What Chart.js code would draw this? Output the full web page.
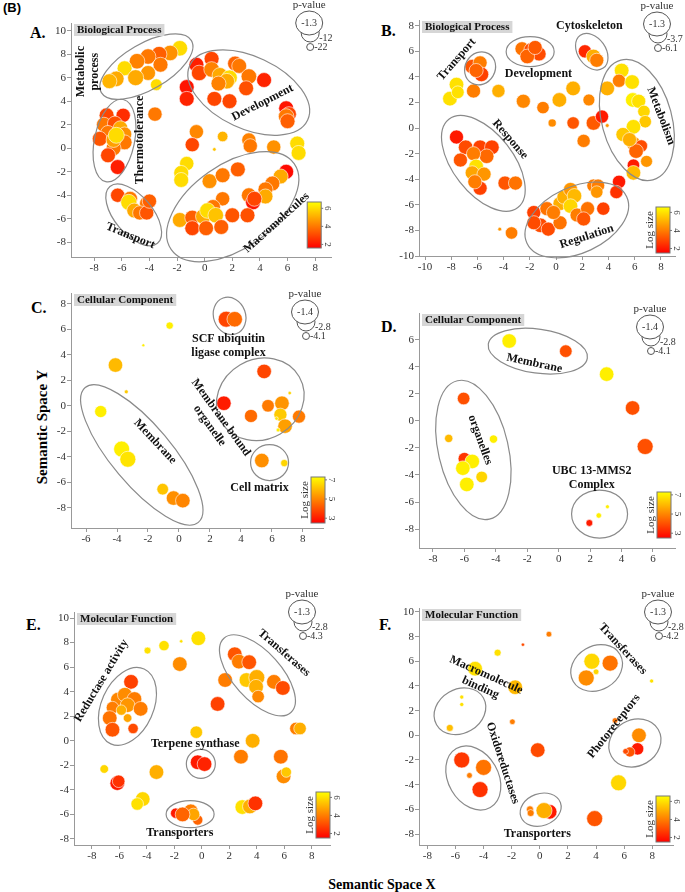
<!DOCTYPE html>
<html>
<head>
<meta charset="utf-8">
<script src="https://cdn.jsdelivr.net/npm/chart.js@4.4.0/dist/chart.umd.min.js"></script>
<style>
body { margin:0; background:#fff; width:685px; height:892px; position:relative; overflow:hidden; font-family:"Liberation Serif", serif; }
canvas { position:absolute; }
.t { position:absolute; font-weight:bold; color:#000; white-space:nowrap; }
</style>
</head>
<body>
<div class="t" style="left:3px;top:0px;font:bold 13px 'Liberation Sans', Arial;">(B)</div>
<div class="t" style="left:30px;top:24px;font-size:16px;">A.</div>
<div class="t" style="left:381px;top:22px;font-size:16px;">B.</div>
<div class="t" style="left:31px;top:299px;font-size:16px;">C.</div>
<div class="t" style="left:381px;top:318px;font-size:16px;">D.</div>
<div class="t" style="left:26px;top:616px;font-size:16px;">E.</div>
<div class="t" style="left:379px;top:616px;font-size:16px;">F.</div>
<div class="t" style="left:42px;top:427px;font-size:15px;transform:translate(-50%,-50%) rotate(-90deg);">Semantic Space Y</div>
<div class="t" style="left:382px;top:885px;font-size:14px;transform:translate(-50%,-50%);">Semantic Space X</div>

<script>
// each point: [semantic x, semantic y, log size, log10 p-value]
var pointsA = [
  [-1.8,8.5,6,-2],[-2.5,8.1,4.5,-2],[-3.3,8.0,3.5,-2],[-4.1,7.8,4,-2],[-4.9,7.4,4.2,-2],[-3.2,7.1,4,-3],
  [-5.8,6.8,6,-3],[-4.1,6.4,4.6,-3],[-5.0,6.0,5,-1.3],[-6.4,5.9,5,-2],[-6.9,5.7,5.2,-3],[-3.5,5.4,6,-8],
  [-0.6,7.1,2.2,-3],[0.5,7.6,3,-3],[-0.4,6.4,3,-2],[0.5,6.7,4.2,-2],[1.1,6.2,5,-2],[1.8,6.0,6,-2],
  [1.6,5.7,5,-2],[2.2,7.2,3.6,-3],[2.5,7.0,4,-3],[3.2,6.1,4,-2],[3.0,5.1,3.2,-3],[4.3,5.8,2.3,-3],
  [1.0,5.5,4.2,-3],[0.7,4.2,3,-3],[1.8,4.0,3,-3],[5.9,3.4,2,-3],[6.1,2.9,3,-3],[5.9,2.7,4,-2],[6.0,2.3,3.5,-3],
  [-7.1,2.8,3,-3],[-5.9,2.8,2.5,-4],[-7.3,2.0,4,-3],[-6.5,2.1,3.2,-3],[-7.0,1.3,4,-3],[-6.1,1.7,5,-3],
  [-5.8,1.2,4.5,-4],[-7.6,0.8,3.3,-3],[-5.8,0.5,4,-3],[-6.6,0.0,4,-3],[-7.0,-0.6,3,-3],[-6.3,-1.6,2.2,-3],
  [-6.6,0.7,4.8,-3],[-6.4,1.1,6,-1.3],
  [-1.3,5.2,2,-3],[-1.3,4.2,2.3,-3],[-3.6,2.9,4,-4],[-0.6,1.4,4.3,-4],[1.3,1.0,5.2,-10],[-0.9,0.3,3,-4],
  [0.7,-0.1,5.5,-21],[3.2,0.7,4.2,-4],[3.3,0.2,4,-4],[5.0,0.1,4.5,-4],[6.7,0.4,6,-3],[6.8,-0.4,6,-3],
  [-1.3,-1.3,6,-4],[-1.7,-2.1,6,-3],[-1.7,-2.7,6,-3],
  [0.35,-2.8,4.5,-3],[1.3,-2.3,4,-3],[2.4,-1.8,3.5,-3],[5.9,-2.0,1.8,-3],[5.5,-2.4,5,-3],[4.9,-3.0,4,-3],
  [4.4,-3.5,4,-3],[3.2,-4.0,4,-3],[4.4,-4.1,5,-3],[3.5,-4.6,2,-3],[1.3,-4.3,4,-4],[0.6,-5.0,4,-3],
  [-1.8,-6.1,5,-3],[-0.9,-5.9,3.5,-3],[-0.1,-5.8,5,-2],[0.2,-5.3,6,-2],[0.8,-5.7,5.5,-2],[2.0,-5.7,3.3,-3],
  [3.1,-5.7,3.2,-3],[-0.9,-6.8,3,-3],[0.1,-6.8,3.5,-3],[1.2,-6.7,3.5,-3],[3.6,-4.3,3,-3],
  [-6.3,-4.0,3,-4],[-5.4,-4.3,4,-3],[-5.5,-4.6,6,-1.3],[-5.1,-5.3,5,-3],[-4.2,-4.7,4,-4],[-4.7,-5.5,4,-4],
  [-4.2,-5.5,3.3,-4],[-4.0,-4.5,3.5,-4]
];
var pointsB = [
  [-6.4,4.8,3.2,-1.8],[-5.8,5.1,4,-2],[-5.7,4.2,2.8,-1.8],[-6.1,4.5,3.5,-2],
  [-7.6,3.4,6,-1.8],[-8.1,2.3,6,-1.8],[-7.5,2.8,6,-2.5],[-6.3,2.9,4,-2],[-4.4,2.9,5,-2.3],
  [-2.6,6.2,3.8,-2],[-1.9,6.1,3,-1.8],[-1.3,5.8,3,-2],[-2.2,5.6,3.5,-1.8],[-1.6,6.3,3.3,-2],
  [2.2,6.0,2.3,-2.3],[2.85,5.6,5,-1.8],[3.1,5.3,4,-2],
  [-2.5,2.1,4.2,-2],[-1.0,1.6,4,-2.6],[0.25,2.2,5,-1.8],[1.3,3.1,5,-1.8],[2.5,2.2,4.2,-2.8],[-0.3,0.4,4.3,-4.2],
  [1.3,0.4,3.2,-2.6],[2.1,-1.0,4,-2.3],[2.85,0.4,3.3,-1.8],[3.5,0.9,2,-2.3],[3.9,0.2,4.5,-5.8],
  [5.0,4.5,6,-1.8],[4.8,3.7,4,-2.3],[3.9,3.1,5,-1.8],[5.8,3.6,6,-1.8],[5.85,2.2,6.3,-1.8],[6.3,2.1,6,-2],
  [6.7,1.3,5.8,-2.6],[6.8,0.5,5.5,-2.6],[5.9,0.1,6,-1.8],[5.1,-0.5,5.5,-2],[5.9,-1.2,4.5,-2],[6.5,-1.4,3,-2.6],
  [6.1,-1.8,3.5,-1.8],[6.9,-2.6,4.5,-2.8],[5.9,-2.9,2,-2.6],[5.9,-3.5,5.2,-1.8],[5.6,-0.9,5,-2],
  [-7.6,-0.7,2,-2],[-6.9,-1.5,3,-1.8],[-7.3,-2.5,3.2,-2],[-5.8,-1.5,2.8,-1.8],[-4.9,-1.5,2.8,-1.8],
  [-5.3,-2.2,3.6,-1.8],[-6.3,-2.0,4,-2],[-6.1,-3.0,6,-1.8],[-6.4,-3.5,4.8,-2],[-5.5,-3.6,4.5,-2],
  [-5.8,-4.7,2.8,-2],[-6.2,-4.2,4,-2],[-3.9,-4.3,3.2,-2],[-3.1,-4.3,3.8,-2],
  [-1.7,-6.6,2.8,-2],[-1.2,-7.6,3,-1.8],[-0.6,-7.9,3,-2],[-0.7,-6.3,3.8,-2],[0.3,-7.4,3.8,-2],[0.3,-5.9,5,-2],
  [0.6,-5.4,5,-2],[1.1,-4.8,4.5,-2],[1.4,-5.3,5.2,-1.8],[1.1,-6.1,5.8,-1.8],[1.6,-6.8,4,-2],[2.4,-6.3,3.8,-2],
  [2.1,-7.1,3.2,-2],[2.85,-4.5,4,-2.3],[3.2,-4.5,4,-2.3],[3.6,-6.3,2.8,-2.3],[-0.2,-6.6,4,-2],[-1.7,-7.4,3,-2],
  [3.1,-5.0,4.5,-2.6],
  [4.8,-4.2,2,-2.3],[4.6,-5.0,2.5,-2.3],[-3.4,-8.2,4,-2.6],[-4.3,-7.9,4.5,-5.8]
];
var pointsC = [
  [3.05,6.8,3.8,-1.4],[3.6,6.8,4.5,-1.5],[-0.6,6.3,7,-3.2],[-2.3,4.75,7,-4.1],[-4.1,3.2,6,-1.7],
  [-3.4,1.1,6.3,-3.9],[-5.05,-0.45,7,-2.2],[-3.7,-3.4,7,-1.4],[-3.3,-4.2,6.8,-1.4],[-1.05,-6.55,6.2,-2.3],
  [-0.35,-7.25,5.2,-1.7],[0.25,-7.45,5,-1.7],[5.5,2.7,3.8,-1.7],[7.15,1.0,6.5,-4.0],[2.9,0.2,3,-1.7],
  [5.75,0.0,4.8,-2.1],[6.65,0.2,5.3,-1.7],[6.55,-0.7,6.3,-2.0],[4.65,-0.8,4.5,-2.0],[7.75,-0.85,4.8,-2.0],
  [6.85,-1.6,5.5,-1.7],[6.3,-1.0,6.8,-4.0],[6.4,-1.9,7,-3.9],[5.35,-4.3,5.2,-1.7],[6.8,-4.5,6.5,-3.2]
];
var pointsD = [
  [-3.15,5.9,7,-1.7],[0.45,5.15,4,-2.1],[3.05,3.45,7,-1.7],[4.7,0.95,4,-1.7],[5.5,-1.9,4,-1.4],
  [-6.05,1.65,4,-2.1],[-7.0,-1.3,6,-3.0],[-4.15,-1.35,7,-3.0],[-6.0,-2.8,3.5,-2.1],[-5.5,-3.0,7,-1.7],
  [-6.1,-3.5,7,-1.7],[-4.9,-4.15,6.5,-2.3],[-5.85,-4.7,7,-1.7],[1.95,-7.55,3,-3.3],[2.55,-7.0,7,-3.6],
  [3.1,-6.35,7,-3.9]
];
var pointsE = [
  [-3.95,7.35,6,-3.4],[-2.75,7.75,6,-2.6],[-1.5,8.1,6,-4.2],[-0.25,8.35,6,-1.6],[-1.6,6.25,4.3,-1.6],
  [-5.15,4.8,2.8,-1.6],[-6.1,3.35,4.2,-1.6],[-5.6,3.75,4.3,-1.6],[-4.9,3.4,4,-1.6],[-5.4,2.9,4.5,-1.6],
  [-6.5,2.7,4,-2.1],[-5.85,2.5,5,-2.6],[-4.45,2.6,4,-1.6],[-6.7,1.85,3.8,-1.6],[-5.4,1.85,4.8,-3.0],
  [-6.5,0.9,3.2,-1.6],[-5.0,1.0,3,-2.6],
  [2.4,7.05,3.2,-1.6],[2.7,6.45,4,-1.6],[3.45,6.4,3.2,-1.6],[1.7,4.95,4,-1.6],[3.25,4.95,5.5,-1.6],
  [4.0,5.15,5,-1.3],[3.95,4.4,5,-1.6],[4.1,3.6,4.2,-2.1],[5.25,4.8,4,-1.6],[5.9,4.3,3,-1.6],
  [1.15,3.0,2.8,-1.6],[-0.4,0.7,5.5,-2.1],[6.85,1.0,4,-2.1],[7.15,1.0,5,-2.1],[3.7,0.0,5,-1.6],
  [2.85,-1.3,4,-1.6],[5.75,-1.3,3.8,-1.6],[5.95,-2.9,4.3,-1.6],[6.15,-2.55,5.5,-2.6],[-7.1,-2.3,5.8,-3.0],
  [-3.3,-2.55,5,-1.6],[-6.15,-3.45,2,-1.6],[-6.05,-3.3,2.5,-2.1],[-4.3,-4.75,5.8,-1.6],[-4.7,-5.15,6,-2.1],
  [-0.3,-1.75,2,-1.6],[0.2,-1.9,2.2,-1.6],
  [-1.9,-5.9,2,-2.6],[-0.8,-5.75,4,-1.6],[-0.3,-6.45,3.5,-2.6],[-0.6,-6.0,4.8,-2.1],[-1.4,-6.0,3.5,-1.6],
  [2.95,-5.4,6,-1.6],[3.5,-5.35,5,-1.6],[3.9,-5.1,2.5,-1.6]
];
var pointsF = [
  [0.65,8.2,4,-3.6],[-1.2,7.35,3,-4.1],[-3.0,6.7,6,-3.3],[-4.6,5.4,6,-1.6],[-1.75,3.9,5.2,-1.6],
  [-5.55,3.1,6,-3.95],[-5.55,2.5,6,-3.95],[-6.4,0.6,5.3,-3.3],[-1.95,1.1,4,-3.6],[-0.15,-1.2,3,-1.6],
  [3.7,6.0,5.8,-1.3],[5.0,5.85,3.8,-1.3],[4.0,5.15,5.8,-3.6],[3.3,4.65,4.3,-1.3],[7.95,4.4,6,-3.95],
  [5.35,1.2,3.8,-3.6],[7.05,0.0,4.3,-1.6],[6.95,-1.1,2,-2.1],[6.4,-1.35,3.2,-2.6],[6.1,-1.3,3,-3.6],
  [5.6,-3.85,5.8,-1.3],
  [-5.55,-2.0,2.6,-1.3],[-4.0,-2.6,3.8,-1.3],[-5.0,-3.25,4,-3.6],[-4.25,-4.4,2.5,-1.3],
  [-0.7,-6.0,4,-3.3],[-0.65,-6.3,4,-3.3],[0.7,-6.2,2,-1.6],[0.3,-6.1,5,-1.3],[3.9,-6.75,3.2,-1.3]
];

// axis ticks
var ticksA_x = [-8,-6,-4,-2,0,2,4,6,8],  ticksA_y = [-8,-6,-4,-2,0,2,4,6,8,10];
var ticksB_x = [-10,-8,-6,-4,-2,0,2,4,6,8], ticksB_y = [-10,-8,-6,-4,-2,0,2,4,6,8];
var ticksC_x = [-6,-4,-2,0,2,4,6,8],     ticksC_y = [-8,-6,-4,-2,0,2,4,6,8];
var ticksD_x = [-8,-6,-4,-2,0,2,4,6],    ticksD_y = [-8,-6,-4,-2,0,2,4,6];
var ticksE_x = [-8,-6,-4,-2,0,2,4,6,8],  ticksE_y = [-8,-6,-4,-2,0,2,4,6,8,10];
var ticksF_x = [-8,-6,-4,-2,0,2,4,6,8],  ticksF_y = [-8,-6,-4,-2,0,2,4,6,8,10];

// p-value legend (big, middle, small circle) and log size colour bars
var pvA = [-1.3,-12,-22], pvB = [-1.3,-3.7,-6.1], pvC = [-1.4,-2.8,-4.1];
var pvD = [-1.4,-2.8,-4.1], pvE = [-1.3,-2.8,-4.3], pvF = [-1.3,-2.8,-4.2];
var logRangeA = [1.6,6.7], logTicksA = [2,4,6];
var logRangeB = [1.5,6.6], logTicksB = [2,4,6];
var logRangeC = [2.5,7.3], logTicksC = [3,5,7];
var logRangeD = [2.5,7.3], logTicksD = [3,5,7];
var logRangeE = [1.5,6.6], logTicksE = [2,4,6];
var logRangeF = [1.5,6.6], logTicksF = [2,4,6];

// cluster outlines: centre x, centre y (semantic space), half axes px, rotation deg
var ringsA = [[-4.22,6.94,52,23,-30],[3.19,4.73,65,36,25],[-6.53,0.65,42,20,-78],[-5.14,-5.67,37,19,50],[2.03,-4.97,75,42,-35]];
var ringsB = [[-5.8,4.67,17,15,-60],[-1.98,5.97,24,15,0],[2.72,5.97,20,14,55],[6.16,0.63,62,35,75],[-5.55,-2.76,56,30,52],[1.58,-7.18,55,33,-25]];
var ringsC = [[3.27,7.06,19,16,70],[5.25,0.51,45,40,-30],[5.85,-4.46,19,18,0],[-2.4,-3.86,88,30,50]];
var ringsD = [[-1.33,5.15,50,22,8],[-5.43,-2.15,71,35,77],[2.6,-6.89,28,24,0]];
var ringsE = [[-5.41,2.8,41,26,-66],[4.05,5.33,50,24,48],[-0.07,-1.88,14.5,14.5,0],[-0.85,-5.98,24,13.5,0]];
var ringsF = [[4.04,5.46,27,22,-30],[-5.68,1.95,27,22,-30],[-4.73,-3.46,34,25,60],[0.06,-6.03,21,16,-20],[6.76,-0.62,27,23,-30]];

var tagsA = [['Metabolic\nprocess',-8.43,6.51,-90],['Thermotolerance',-4.7,0.7,-90],['Development',4.2,3.88,-27],['Transport',-5.38,-7.46,22],['Macromolecules',5.21,-6.33,-42]];
var tagsB = [['Transport',-7.58,5.37,-49],['Development',-1.35,4.22,0],['Cytoskeleton',2.54,7.97,0],['Response',-3.51,-0.88,49],['Metabolism',8.0,0.94,69],['Regulation',2.34,-8.48,-18]];
var tagsC = [['SCF ubiquitin\nligase complex',3.2,4.73,0],['Membrane bound\norganelle',2.34,-1.24,54],['Membrane',-1.54,-2.81,47],['Cell matrix',5.2,-6.48,0]];
var tagsD = [['Membrane',-1.55,4.25,12],['organelles',-5.0,-1.41,70],['UBC 13-MMS2\nComplex',2.1,-4.22,0]];
var tagsE = [['Reductase activity',-7.3,4.89,-59],['Transferases',5.99,7.15,41],['Terpene synthase',-0.48,-0.24,0],['Transporters',-1.6,-7.53,0]];
var tagsF = [['Transferases',5.89,7.0,47],['Macromolecule\nbinding',-4.02,4.38,24],['Oxidoreductases',-2.64,-2.24,72],['Photoreceptors',5.27,0.73,-52],['Transporters',-0.18,-8.0,0]];

function colorFor(v, rng) {
  var t = (v - rng[0]) / (rng[1] - rng[0]);
  t = Math.max(0, Math.min(1, t));
  return 'rgb(255,' + Math.round(255 * t) + ',0)';
}

var decoPlugin = {
  id: 'deco',
  afterDatasetsDraw: function(chart, args, opts) {
    var p = opts.panel, ctx = chart.ctx, ca = chart.chartArea;
    var xs = chart.scales.x, ys = chart.scales.y;
    ctx.save();
    ctx.strokeStyle = '#8a8a8a';
    ctx.lineWidth = 1.2;
    p.rings.forEach(function(r) {
      ctx.beginPath();
      ctx.ellipse(xs.getPixelForValue(r[0]), ys.getPixelForValue(r[1]), r[2], r[3], r[4] * Math.PI / 180, 0, 2 * Math.PI);
      ctx.stroke();
    });
    ctx.fillStyle = '#111';
    ctx.font = 'bold 12px "Liberation Serif"';
    ctx.textAlign = 'center';
    ctx.textBaseline = 'middle';
    p.tags.forEach(function(t) {
      var lines = t[0].split('\n');
      ctx.save();
      ctx.translate(xs.getPixelForValue(t[1]), ys.getPixelForValue(t[2]));
      ctx.rotate(t[3] * Math.PI / 180);
      lines.forEach(function(s, i) {
        ctx.fillText(s, 0, (i - (lines.length - 1) / 2) * 14);
      });
      ctx.restore();
    });

    // title box
    ctx.font = 'bold 11px "Liberation Serif"';
    var tw = ctx.measureText(p.title).width + 6;
    ctx.fillStyle = '#d6d6d6';
    ctx.fillRect(ca.left + 3, ca.top + 1, tw, 12);
    ctx.fillStyle = '#111';
    ctx.textAlign = 'left';
    ctx.fillText(p.title, ca.left + 6, ca.top + 7.5);

    // p-value legend
    var cx = ca.right + p.leg[0], cy = ca.top + p.leg[1];
    ctx.font = '11px "Liberation Serif"';
    ctx.fillStyle = '#333';
    ctx.textAlign = 'center';
    ctx.fillText('p-value', cx, cy - 18);
    ctx.strokeStyle = '#555';
    ctx.lineWidth = 1;
    ctx.fillStyle = '#fff';
    ctx.beginPath(); ctx.arc(cx + 1, cy + 10, 9, 0, 2 * Math.PI); ctx.fill(); ctx.stroke();
    ctx.beginPath(); ctx.ellipse(cx, cy, 13.5, 12, 0, 0, 2 * Math.PI); ctx.fill(); ctx.stroke();
    ctx.beginPath(); ctx.arc(cx + 1, cy + 24, 3.5, 0, 2 * Math.PI); ctx.fill(); ctx.stroke();
    ctx.fillStyle = '#333';
    ctx.font = '10px "Liberation Serif"';
    ctx.fillText(String(p.pv[0]), cx, cy);
    ctx.textAlign = 'left';
    ctx.fillText(String(p.pv[1]), cx + 10, cy + 15);
    ctx.fillText(String(p.pv[2]), cx + 5, cy + 24);

    // colour bar
    var bx = ca.right + p.bar[0] - 14, by = ca.bottom + p.bar[1] - 46;
    var g = ctx.createLinearGradient(0, by + 46, 0, by);
    for (var k = 0; k <= 10; k++) {
      g.addColorStop(k / 10, colorFor(p.lr[0] + (p.lr[1] - p.lr[0]) * k / 10, p.lr));
    }
    ctx.fillStyle = g;
    ctx.fillRect(bx, by, 14, 46);
    ctx.strokeStyle = '#777';
    ctx.strokeRect(bx, by, 14, 46);
    ctx.fillStyle = '#333';
    ctx.font = '9px "Liberation Serif"';
    ctx.textAlign = 'center';
    p.lt.forEach(function(v) {
      var yy = by + 46 - (v - p.lr[0]) / (p.lr[1] - p.lr[0]) * 46;
      ctx.beginPath(); ctx.moveTo(bx + 14, yy); ctx.lineTo(bx + 16, yy); ctx.stroke();
      ctx.save();
      ctx.translate(bx + 20, yy);
      ctx.rotate(Math.PI / 2);
      ctx.fillText(String(v), 0, 0);
      ctx.restore();
    });
    if (p.barLabel) {
      ctx.save();
      ctx.font = '11px "Liberation Serif"';
      ctx.translate(bx - 6, by + 23);
      ctx.rotate(-Math.PI / 2);
      ctx.fillText('Log size', 0, 0);
      ctx.restore();
    }
    ctx.restore();
  }
};

var panels = [
  {cell:[0,0,340,280], area:[71,23,332,257], xr:[-9.68,9.16], yr:[-9.25,10.65], xt:ticksA_x, yt:ticksA_y, pts:pointsA, pv:pvA, lr:logRangeA, lt:logTicksA, rings:ringsA, tags:tagsA, title:'Biological Process', leg:[-22,0], bar:[-10,-9], barLabel:false},
  {cell:[340,0,345,280], area:[419,20,675,256], xr:[-10.46,9.07], yr:[-10,8.45], xt:ticksB_x, yt:ticksB_y, pts:pointsB, pv:pvB, lr:logRangeB, lt:logTicksB, rings:ringsB, tags:tagsB, title:'Biological Process', leg:[-18,4], bar:[-5,-3], barLabel:true},
  {cell:[0,280,340,292], area:[71,293,323,528], xr:[-6.97,9.3], yr:[-9.6,8.86], xt:ticksC_x, yt:ticksC_y, pts:pointsC, pv:pvC, lr:logRangeC, lt:logTicksC, rings:ringsC, tags:tagsC, title:'Cellular Component', leg:[-18,19], bar:[2,-5], barLabel:true},
  {cell:[340,280,345,292], area:[419,313,675,548], xr:[-8.89,7.4], yr:[-9.4,7.97], xt:ticksD_x, yt:ticksD_y, pts:pointsD, pv:pvD, lr:logRangeD, lt:logTicksD, rings:ringsD, tags:tagsD, title:'Cellular Component', leg:[-25,14], bar:[-4,-10], barLabel:true},
  {cell:[0,572,340,320], area:[74,612,330,845], xr:[-9.3,9.33], yr:[-8.49,10.49], xt:ticksE_x, yt:ticksE_y, pts:pointsE, pv:pvE, lr:logRangeE, lt:logTicksE, rings:ringsE, tags:tagsE, title:'Molecular Function', leg:[-28,0], bar:[0,-7], barLabel:true},
  {cell:[340,572,345,320], area:[419,608,673,845], xr:[-8.59,9.47], yr:[-8.89,10.32], xt:ticksF_x, yt:ticksF_y, pts:pointsF, pv:pvF, lr:logRangeF, lt:logTicksF, rings:ringsF, tags:tagsF, title:'Molecular Function', leg:[-15,4], bar:[-3,-3], barLabel:true}
];

var Y_W = 30, X_H = 20;
var R_BIG = 8, R_SMALL = 1.5;

panels.forEach(function(p) {
  var cv = document.createElement('canvas');
  cv.width = p.cell[2]; cv.height = p.cell[3];
  cv.style.left = p.cell[0] + 'px'; cv.style.top = p.cell[1] + 'px';
  cv.style.width = p.cell[2] + 'px'; cv.style.height = p.cell[3] + 'px';
  document.body.appendChild(cv);

  var big = p.pv[0], small = p.pv[2];
  var bubbles = p.pts.map(function(q) {
    var r = R_SMALL + (R_BIG - R_SMALL) * (q[3] - small) / (big - small);
    return {x: q[0], y: q[1], r: Math.max(1.2, Math.min(R_BIG, r)), v: q[2]};
  });

  var axisStyle = function(min, max, ticks, isX) {
    return {
      type: 'linear', min: min, max: max,
      afterBuildTicks: function(s) { s.ticks = ticks.map(function(v) { return {value: v}; }); },
      afterFit: function(s) { if (isX) s.height = X_H; else s.width = Y_W; },
      grid: {display: true, drawOnChartArea: false, drawTicks: true, tickLength: 4, color: '#999'},
      border: {display: true, color: '#999', width: 1},
      ticks: {color: '#333', padding: 1, font: {family: 'Liberation Serif', size: 11}, maxRotation: 0, autoSkip: false}
    };
  };

  new Chart(cv, {
    type: 'bubble',
    data: {datasets: [{
      data: bubbles,
      backgroundColor: function(c) { return c.raw ? colorFor(c.raw.v, p.lr) : '#f80'; },
      borderColor: 'rgba(255,255,255,0.75)',
      borderWidth: 0.8,
      clip: false
    }]},
    options: {
      responsive: false, animation: false, events: [],
      layout: {padding: {
        left: p.area[0] - p.cell[0] - Y_W,
        top: p.area[1] - p.cell[1],
        right: p.cell[0] + p.cell[2] - p.area[2],
        bottom: p.cell[1] + p.cell[3] - p.area[3] - X_H
      }},
      plugins: {legend: {display: false}, tooltip: {enabled: false}, deco: {panel: p}},
      scales: {
        x: axisStyle(p.xr[0], p.xr[1], p.xt, true),
        y: axisStyle(p.yr[0], p.yr[1], p.yt, false)
      }
    },
    plugins: [decoPlugin]
  });
});
</script>
</body>
</html>
